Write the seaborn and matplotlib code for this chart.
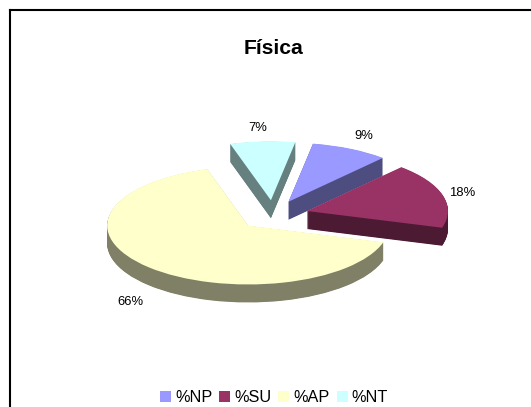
import numpy as np
import seaborn as sns
from matplotlib import pyplot as plt
from matplotlib.colors import to_rgb

categories = ["%NP", "%SU", "%AP", "%NT"]
# the labels round these to 9/18/66/7
values = [8.9, 17.9, 65.75, 7.45]
colors = ["#9999FF", "#993366", "#FFFFCC", "#CCFFFF"]

sns.set_theme(style="white")
plt.rcParams["font.family"] = ["Liberation Sans", "DejaVu Sans"]

W, H = 531, 407
fig = plt.figure(figsize=(W / 100, H / 100), dpi=100, facecolor="white")
ax = fig.add_axes([9.5 / W, 0, (W - 9.5) / W, (H - 9.5) / H])

explode = [0.25] * len(values)
side_colors = [tuple(np.array(to_rgb(c)) * 0.5) for c in colors]

# stack darker copies going down to fake the 3d depth
depth = 18 / 59
for d in np.linspace(depth, 0, 37)[:-1]:
    ax.pie(
        values,
        explode=explode,
        colors=side_colors,
        startangle=80,
        counterclock=False,
        center=(0, -d),
        wedgeprops={"linewidth": 0},
    )

wedges, _, pcts = ax.pie(
    values,
    explode=explode,
    colors=colors,
    startangle=80,
    counterclock=False,
    autopct="%.0f%%",
    pctdistance=1.25,
    textprops={"fontsize": 9.4, "color": "black"},
    wedgeprops={"linewidth": 0},
)

# ellipse: 141 px wide radius, 59 px tall radius, centre at (273, 215) px
ax.set_aspect("auto")
ax.set_xlim((9.5 - 273) / 141, (W - 273) / 141)
ax.set_ylim((215 - H) / 59, (215 - 9.5) / 59)

# nudge labels (in pixels) to where the original has them
nudges = [(-2, -1), (-14, -2), (7, -24), (-3, -1)]
for t, (nx, ny) in zip(pcts, nudges):
    x, y = t.get_position()
    t.set_position((x + nx / 141, y + ny / 59))

ax.set_frame_on(True)
for side in ["right", "bottom"]:
    ax.spines[side].set_visible(False)
for side in ["left", "top"]:
    ax.spines[side].set_visible(True)
    ax.spines[side].set_color("black")
    ax.spines[side].set_linewidth(1.5)

fig.suptitle("Física", x=274 / W, y=1 - 48.5 / H, va="center", fontsize=15.2, fontweight="bold", color="black")

fig.legend(
    wedges,
    categories,
    ncols=4,
    loc="center",
    bbox_to_anchor=(274 / W, 1 - 398 / H),
    frameon=False,
    fontsize=11.7,
    borderpad=0,
    handlelength=0.68,
    handleheight=0.68,
    handletextpad=0.25,
    columnspacing=0.43,
    labelcolor="black",
)

fig.savefig("out.png", dpi=100)
